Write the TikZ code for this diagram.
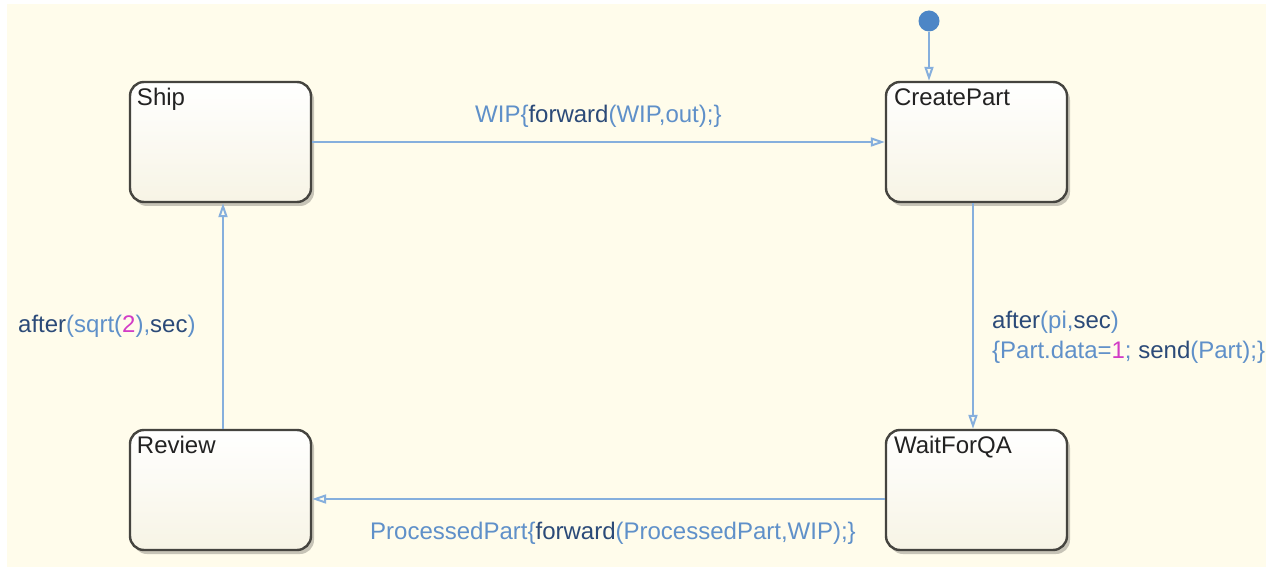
\documentclass[tikz,border=0pt]{standalone}
\usepackage{fontspec}
\setmainfont{Liberation Sans}
\usetikzlibrary{arrows.meta,shadows,calc}
\definecolor{bgcream}{HTML}{FFFCEB}
\definecolor{boxbot}{HTML}{F7F4E5}
\definecolor{boxedge}{HTML}{45443F}
\definecolor{wire}{HTML}{86AFDD}
\definecolor{dotblue}{HTML}{4D86C6}
\definecolor{txtlight}{HTML}{5F90C9}
\definecolor{txtdark}{HTML}{2B4A78}
\definecolor{txtmag}{HTML}{D23CC6}
\definecolor{txtname}{HTML}{222222}
\newcommand\clb[1]{\textcolor{txtlight}{#1}}
\newcommand\cdk[1]{\textcolor{txtdark}{#1}}
\newcommand\cmg[1]{\textcolor{txtmag}{#1}}
\tikzset{
  stbox/.style={rectangle, rounded corners=14bp, minimum width=181bp, minimum height=120bp,
    draw=boxedge, line width=2.4bp, top color=white, bottom color=boxbot, inner sep=0pt,
    drop shadow={shadow xshift=3bp, shadow yshift=-4bp, opacity=0.22, fill=black}},
  stname/.style={anchor=base west, inner sep=0pt, text=txtname, font=\fontsize{24bp}{28bp}\selectfont},
  lbl/.style={anchor=base west, inner sep=0pt, font=\fontsize{24bp}{28bp}\selectfont},
  wireline/.style={draw=wire, line width=2.6bp, -{Triangle[open, length=14bp, width=9bp, line width=2bp]}},
}
\begin{document}
\begin{tikzpicture}[x=1bp,y=-1bp]
\useasboundingbox (0,0) rectangle (1266,567);
\fill[bgcream] (7,4) rectangle (1266,567);
% states
\node[stbox] (ship) at (220.5,142) {};
\node[stbox] (cp) at (976.5,142) {};
\node[stbox] (review) at (220.5,490) {};
\node[stbox] (wait) at (976.5,490) {};
\node[stname] (shipname) at ($(ship.north west)+(8,25)$) {Ship};
\node[stname] (cpname) at ($(cp.north west)+(9,25)$) {CreatePart};
\node[stname] (reviewname) at ($(review.north west)+(8,25)$) {Review};
\node[stname] (waitname) at ($(wait.north west)+(9,25)$) {WaitForQA};
% initial dot
\node[circle, fill=dotblue, minimum size=21bp, inner sep=0pt] (init) at (929,21) {};
% transitions
\draw[wireline] (init) -- (init |- cp.north);
\draw[wireline] (ship.east) -- (cp.west);
\draw[wireline] ($(cp.south)+(-3.5,0)$) -- ($(wait.north)+(-3.5,0)$);
\draw[wireline] ($(wait.west)+(0,9)$) -- ($(review.east)+(0,9)$);
\draw[wireline] ($(review.north)+(2.5,0)$) -- ($(ship.south)+(2.5,0)$);
% labels
\node[lbl] (l1) at (475,123) {\clb{WIP\{}\cdk{forward}\clb{(WIP,out);\}}};
\node[lbl] (l2) at (992,329) {\cdk{after}\clb{(pi,}\cdk{sec}\clb{)}};
\node[lbl] (l3) at (992,359) {\clb{\{Part.data=}\cmg{1}\clb{; }\cdk{send}\clb{(Part);\}}};
\node[lbl] (l4) at (18,333) {\cdk{after}\clb{(sqrt(}\cmg{2}\clb{),}\cdk{sec}\clb{)}};
\node[lbl] (l5) at (370,539) {\clb{ProcessedPart\{}\cdk{forward}\clb{(ProcessedPart,WIP);\}}};
\end{tikzpicture}
\end{document}
